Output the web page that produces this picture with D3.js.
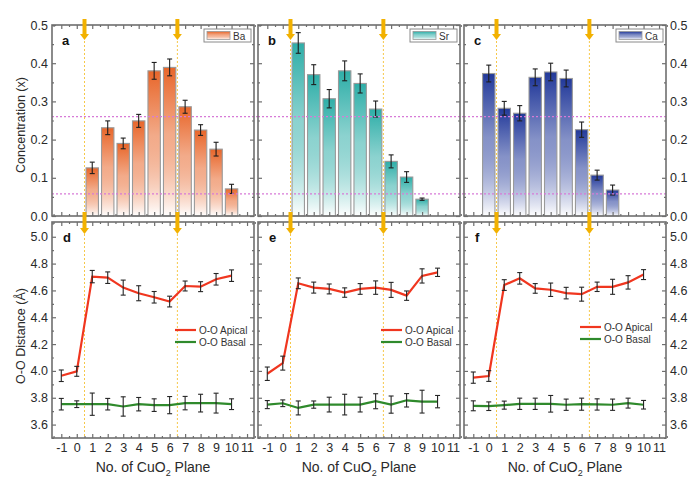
<!DOCTYPE html>
<html><head><meta charset="utf-8">
<script src="https://cdn.jsdelivr.net/npm/d3@7"></script>
<style>body{margin:0;background:#fff} svg{display:block;font-family:"Liberation Sans",Arial,sans-serif}</style>
</head><body><svg id="c" width="700" height="484"></svg>
<script>
// ---------- data ----------
const planeTicks = [-1,0,1,2,3,4,5,6,7,8,9,10,11];
const interfaces = [0.5, 6.5];
const refLevels = [0.26, 0.058];
const concTicks = [0.0,0.1,0.2,0.3,0.4,0.5];
const distTicks = [3.6,3.8,4.0,4.2,4.4,4.6,4.8,5.0];

const baX = [1,2,3,4,5,6,7,8,9,10];
const baVal = [0.126,0.231,0.190,0.249,0.380,0.389,0.286,0.225,0.175,0.071];
const baErr = [0.015,0.018,0.014,0.017,0.022,0.022,0.017,0.014,0.018,0.012];

const srX = [1,2,3,4,5,6,7,8,9];
const srVal = [0.453,0.370,0.307,0.380,0.347,0.280,0.143,0.102,0.044];
const srErr = [0.027,0.026,0.024,0.026,0.025,0.021,0.017,0.014,0.003];

const caX = [0,1,2,3,4,5,6,7,8];
const caVal = [0.373,0.282,0.269,0.363,0.377,0.360,0.226,0.107,0.068];
const caErr = [0.022,0.018,0.020,0.022,0.023,0.022,0.020,0.013,0.013];

const distX = [-1,0,1,2,3,4,5,6,7,8,9,10];
const apicalD = [3.964,3.997,4.703,4.695,4.621,4.579,4.549,4.517,4.633,4.628,4.683,4.710];
const apicalDErr = [0.043,0.037,0.046,0.043,0.056,0.056,0.043,0.040,0.037,0.037,0.043,0.043];
const basalD = [3.752,3.752,3.752,3.752,3.735,3.752,3.745,3.745,3.760,3.760,3.760,3.752];
const basalDErr = [0.043,0.025,0.083,0.043,0.072,0.050,0.047,0.064,0.050,0.066,0.074,0.040];

const apicalE = [3.979,4.058,4.653,4.621,4.611,4.584,4.611,4.621,4.604,4.561,4.708,4.735];
const apicalEErr = [0.050,0.052,0.040,0.041,0.037,0.035,0.040,0.050,0.056,0.035,0.053,0.031];
const basalE = [3.749,3.759,3.724,3.749,3.749,3.749,3.749,3.774,3.749,3.781,3.771,3.771];
const basalEErr = [0.030,0.025,0.052,0.027,0.055,0.077,0.055,0.056,0.064,0.050,0.085,0.046];

const apicalF = [3.950,3.962,4.640,4.690,4.615,4.605,4.580,4.572,4.627,4.627,4.660,4.718];
const apicalFErr = [0.042,0.040,0.040,0.043,0.036,0.050,0.043,0.052,0.035,0.056,0.050,0.037];
const basalF = [3.740,3.737,3.745,3.755,3.755,3.755,3.748,3.752,3.750,3.748,3.760,3.748];
const basalFErr = [0.037,0.032,0.030,0.042,0.042,0.062,0.042,0.045,0.042,0.042,0.037,0.032];

const topPanels = [
  {letter:"a", label:"Ba", color:"#e8662a", xs:baX, vals:baVal, errs:baErr},
  {letter:"b", label:"Sr", color:"#2eaea8", xs:srX, vals:srVal, errs:srErr},
  {letter:"c", label:"Ca", color:"#22399a", xs:caX, vals:caVal, errs:caErr}
];
const botPanels = [
  {letter:"d", ap:apicalD, apE:apicalDErr, ba:basalD, baE:basalDErr},
  {letter:"e", ap:apicalE, apE:apicalEErr, ba:basalE, baE:basalEErr},
  {letter:"f", ap:apicalF, apE:apicalFErr, ba:basalF, baE:basalFErr}
];

// ---------- layout ----------
const svg = d3.select("#c");
const lefts = [52,258,464], PW = 202;
const TOP0 = 25, TOP1 = 216, BOT0 = 222, BOT1 = 438;
const x = d3.scaleLinear().domain([-1.6,11.45]).range([0,PW]);
const yTop = d3.scaleLinear().domain([0,0.5]).range([TOP1,TOP0]);
const yBot = d3.scaleLinear().domain([3.5,5.11]).range([BOT1,BOT0]);
const frameCol = "#6e6e6e", ink = "#2a2a2a";
const defs = svg.append("defs");
const intFmt = d => String(d);   // plain hyphen-minus as in the original

function styleAxis(g){
  g.select(".domain").remove();
  g.selectAll(".tick line").attr("stroke",frameCol).attr("stroke-width",1.2);
  g.selectAll(".tick text").attr("fill",ink).style("font-size","12.5px").style("font-family","'Liberation Sans',Arial,sans-serif");
}
function frameAxes(g, yS, y0, y1, majorY, minorY, opts){
  const xMaj = planeTicks, xMin = d3.range(-1.5,11.6,1);
  g.append("g").attr("transform",`translate(0,${y1})`).call(d3.axisBottom(x).tickValues(xMin).tickSize(-2).tickFormat("")).call(styleAxis);
  g.append("g").attr("transform",`translate(0,${y1})`).call(d3.axisBottom(x).tickValues(xMaj).tickSize(-4).tickPadding(5)
     .tickFormat(opts.xLabels ? intFmt : "")).call(styleAxis);
  g.append("g").attr("transform",`translate(0,${y0})`).call(d3.axisTop(x).tickValues(xMin).tickSize(-2).tickFormat("")).call(styleAxis);
  g.append("g").attr("transform",`translate(0,${y0})`).call(d3.axisTop(x).tickValues(xMaj).tickSize(-4).tickFormat("")).call(styleAxis);
  g.append("g").call(d3.axisLeft(yS).tickValues(minorY).tickSize(-2).tickFormat("")).call(styleAxis);
  g.append("g").call(d3.axisLeft(yS).tickValues(majorY).tickSize(-4).tickPadding(4)
     .tickFormat(opts.left ? d3.format(".1f") : "")).call(styleAxis);
  g.append("g").attr("transform",`translate(${PW},0)`).call(d3.axisRight(yS).tickValues(minorY).tickSize(-2).tickFormat("")).call(styleAxis);
  g.append("g").attr("transform",`translate(${PW},0)`).call(d3.axisRight(yS).tickValues(majorY).tickSize(-4).tickPadding(4)
     .tickFormat(opts.right ? d3.format(".1f") : "")).call(styleAxis);
  g.append("rect").attr("x",0).attr("y",y0).attr("width",PW).attr("height",y1-y0)
    .attr("fill","none").attr("stroke",frameCol).attr("stroke-width",1.6);
}
function arrow(g, xx, ya, yb){
  g.append("line").attr("x1",xx).attr("x2",xx).attr("y1",ya).attr("y2",yb-5)
    .attr("stroke","#f2b100").attr("stroke-width",4);
  g.append("path").attr("d",`M${xx-4.5},${yb-6}L${xx+4.5},${yb-6}L${xx},${yb}Z`).attr("fill","#f2b100");
}
function errBar(g, xx, y1, y2, col, sw){
  g.append("line").attr("x1",xx).attr("x2",xx).attr("y1",y1).attr("y2",y2).attr("stroke",col).attr("stroke-width",sw);
  [y1,y2].forEach(yy=>g.append("line").attr("x1",xx-2.5).attr("x2",xx+2.5).attr("y1",yy).attr("y2",yy).attr("stroke",col).attr("stroke-width",sw));
}

const bw = (x(1)-x(0))*0.8;

// ---------- top panels ----------
topPanels.forEach((p,i)=>{
  const g = svg.append("g").attr("transform",`translate(${lefts[i]},0)`);
  const gid = "grad"+i;
  const gr = defs.append("linearGradient").attr("id",gid).attr("x1",0).attr("y1",0).attr("x2",0).attr("y2",1);
  gr.append("stop").attr("offset","0%").attr("stop-color",p.color);
  gr.append("stop").attr("offset","45%").attr("stop-color",p.color).attr("stop-opacity",0.55);
  gr.append("stop").attr("offset","100%").attr("stop-color","#ffffff");
  g.selectAll("rect.bar").data(p.xs).join("rect").attr("class","bar")
    .attr("x",d=>x(d)-bw/2).attr("width",bw)
    .attr("y",(d,k)=>yTop(p.vals[k])).attr("height",(d,k)=>yTop(0)-yTop(p.vals[k]))
    .attr("fill",`url(#${gid})`).attr("stroke","#9a9a9a").attr("stroke-width",1.1);
  p.xs.forEach((d,k)=>errBar(g, x(d), yTop(p.vals[k]-p.errs[k]), yTop(p.vals[k]+p.errs[k]), "#1e1e1e", 1.1));
  refLevels.forEach(v=>g.append("line").attr("x1",0).attr("x2",PW + (i<2 ? 4 : 0)).attr("y1",yTop(v)).attr("y2",yTop(v))
     .attr("stroke","#d77ad7").attr("stroke-width",1.2).attr("stroke-dasharray","2,2"));
  interfaces.forEach(v=>g.append("line").attr("x1",x(v)).attr("x2",x(v)).attr("y1",TOP0).attr("y2",TOP1)
     .attr("stroke","#f6c84a").attr("stroke-width",1).attr("stroke-dasharray","2,2"));
  frameAxes(g, yTop, TOP0, TOP1, concTicks, d3.range(0.05,0.5,0.1), {left:i===0, right:i===2, xLabels:false});
  g.append("text").attr("x",10).attr("y",45).text(p.letter).attr("fill","#111")
    .style("font-size","13px").style("font-weight","bold");
  // legend
  const lg = g.append("g").attr("transform",`translate(${PW-50},${TOP0+4})`);
  lg.append("rect").attr("x",0).attr("y",0).attr("width",47).attr("height",13).attr("fill","#fff").attr("stroke","#8a8a8a").attr("stroke-width",1);
  lg.append("rect").attr("x",3).attr("y",2.5).attr("width",23).attr("height",8).attr("fill",`url(#${gid})`).attr("stroke","#9a9a9a").attr("stroke-width",0.8);
  lg.append("text").attr("x",29).attr("y",10.5).text(p.label).attr("fill","#333").style("font-size","10px");
});

// ---------- bottom panels ----------
botPanels.forEach((p,i)=>{
  const g = svg.append("g").attr("transform",`translate(${lefts[i]},0)`);
  interfaces.forEach(v=>g.append("line").attr("x1",x(v)).attr("x2",x(v)).attr("y1",BOT0).attr("y2",BOT1)
     .attr("stroke","#f6c84a").attr("stroke-width",1).attr("stroke-dasharray","2,2"));
  const series = [
    {v:p.ap, e:p.apE, col:"#f0361f", name:"O-O Apical"},
    {v:p.ba, e:p.baE, col:"#2f8a2c", name:"O-O Basal"}
  ];
  series.forEach(s=>{
    g.append("path").datum(distX).attr("fill","none").attr("stroke",s.col).attr("stroke-width",2.2)
      .attr("d",d3.line().x(d=>x(d)).y((d,k)=>yBot(s.v[k])));
  });
  series.forEach(s=>distX.forEach((d,k)=>errBar(g, x(d), yBot(s.v[k]-s.e[k]), yBot(s.v[k]+s.e[k]), "#262626", 1.1)));
  frameAxes(g, yBot, BOT0, BOT1, distTicks, d3.range(3.5,5.11,0.2).map(v=>+v.toFixed(1)), {left:i===0, right:i===2, xLabels:true});
  g.append("text").attr("x",11).attr("y",242).text(p.letter).attr("fill","#111")
    .style("font-size","13px").style("font-weight","bold");
  const lx = i===2 ? 116 : 123, ly = i===2 ? 327 : 330;
  series.forEach((s,k)=>{
    g.append("line").attr("x1",lx).attr("x2",lx+21).attr("y1",ly+k*12).attr("y2",ly+k*12).attr("stroke",s.col).attr("stroke-width",2.2);
    g.append("text").attr("x",lx+24).attr("y",ly+k*12+3.5).text(s.name).attr("fill","#333").style("font-size","10px");
  });
  const t = g.append("text").attr("x",PW/2).attr("y",472).attr("text-anchor","middle").attr("fill",ink).style("font-size","14px");
  t.append("tspan").text("No. of CuO");
  t.append("tspan").text("2").attr("dy",4).style("font-size","9px");
  t.append("tspan").text(" Plane").attr("dy",-4);
});

// arrows at interfaces
[0,1,2].forEach(i=>{
  const g = svg.append("g").attr("transform",`translate(${lefts[i]},0)`);
  interfaces.forEach(v=>{ arrow(g, x(v), 19, 40); arrow(g, x(v), 212, 234); });
});

// axis titles
svg.append("text").attr("transform","translate(25,125) rotate(-90)").attr("text-anchor","middle")
  .text("Concentration (x)").attr("fill",ink).style("font-size","12.5px");
svg.append("text").attr("transform","translate(25,336) rotate(-90)").attr("text-anchor","middle")
  .text("O-O Distance (Å)").attr("fill",ink).style("font-size","12.5px");
</script></body></html>
